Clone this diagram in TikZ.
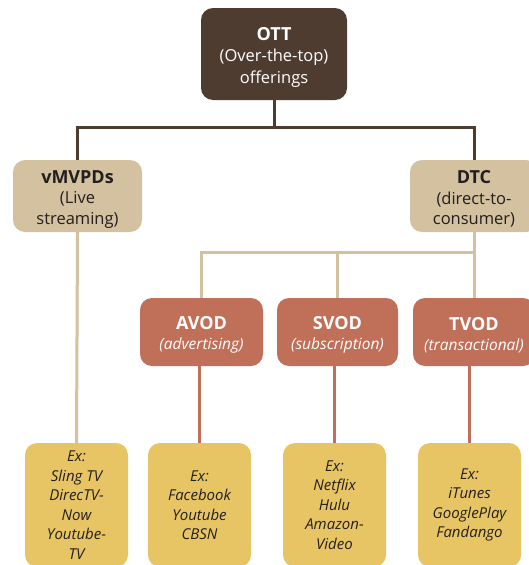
\documentclass[tikz,border=0pt]{standalone}
\usepackage{fontspec}
\setmainfont{Open Sans}
\definecolor{ottc}{HTML}{4F3C31}
\definecolor{tanc}{HTML}{D3C19F}
\definecolor{redc}{HTML}{C06F58}
\definecolor{yelc}{HTML}{E8C564}
\definecolor{txtc}{HTML}{231F20}
\newcommand{\itl}[1]{{\fontsize{15.5}{19.5}\selectfont\itshape #1}}
\newcommand{\hd}[1]{\rule{0pt}{19pt}{\fontsize{18}{21}\selectfont\bfseries #1}}
\begin{document}
\begin{tikzpicture}[x=1pt,y=-1pt,
  boxbase/.style={rounded corners=12pt, align=center, inner sep=0pt,
    font=\fontsize{16.5}{21.5}\selectfont},
  topbox/.style={boxbase, fill=ottc, text=white, minimum width=146pt, minimum height=92pt},
  midbox/.style={boxbase, fill=tanc, text=txtc, minimum width=129pt, minimum height=72pt,
    font=\fontsize{16.5}{20.5}\selectfont},
  vodbox/.style={boxbase, fill=redc, text=white, minimum width=122pt, minimum height=68pt,
    font=\fontsize{16.5}{19.5}\selectfont},
  exbox/.style={boxbase, fill=yelc, text=txtc, minimum width=103pt, minimum height=124pt,
    font=\fontsize{15}{19.5}\selectfont\itshape},
  darkline/.style={draw=ottc, line width=3pt},
  tanline/.style={draw=tanc, line width=3pt},
  redline/.style={draw=redc, line width=3pt}]
\useasboundingbox (0,0) rectangle (528,565);
\fill[white] (0,0) rectangle (528,565);

\node[topbox] (ott) at (274,54) {\hd{OTT}\\(Over-the-top)\\offerings};
\node[midbox] (vm) at (77.5,196) {\hd{vMVPDs}\\(Live\\streaming)};
\node[midbox, minimum width=128pt] (dtc) at (474,196) {\hd{DTC}\\(direct-to-\\consumer)};

\node[vodbox, minimum width=123pt] (avod) at (201.5,332) {\hd{AVOD}\\\itl{(advertising)}};
\node[vodbox, minimum width=121pt] (svod) at (337.5,332) {\hd{SVOD}\\\itl{(subscription)}};
\node[vodbox] (tvod) at (474,332) {\hd{TVOD}\\\itl{(transactional)}};

\node[exbox] (exv) at (76.5,505) {Ex:\\Sling TV\\DirecTV-\\Now\\Youtube-\\TV};
\node[exbox] (exa) at (199.5,505) {Ex:\\Facebook\\Youtube\\CBSN};
\node[exbox] (exs) at (334.5,505) {Ex:\\Netflix\\Hulu\\Amazon-\\Video};
\node[exbox] (ext) at (469.5,505) {Ex:\\iTunes\\GooglePlay\\Fandango};

\coordinate (j1) at (274,127);
\coordinate (j2) at (474,252);

\draw[darkline] (ott.south) -- (j1);
\draw[darkline] (j1) -| (vm.north);
\draw[darkline] (j1) -| (dtc.north);
\draw[tanline] (vm.south) -- (exv.north);
\draw[tanline] (dtc.south) -- (tvod.north);
\draw[tanline] (j2) -| (avod.north);
\draw[tanline] (j2) -| (svod.north);
\draw[redline] (avod.south -| exa.north) -- (exa.north);
\draw[redline] (svod.south -| exs.north) -- (exs.north);
\draw[redline] (tvod.south -| ext.north) -- (ext.north);
\end{tikzpicture}
\end{document}
